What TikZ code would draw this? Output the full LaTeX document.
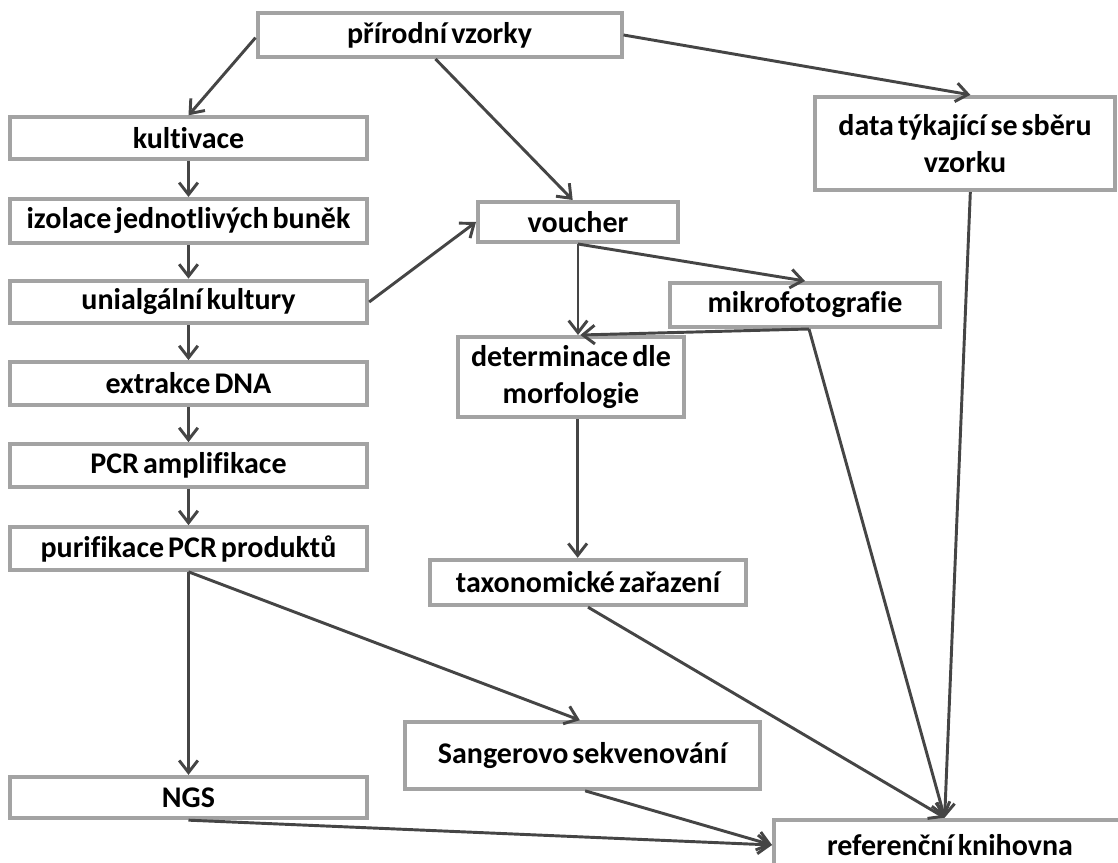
\documentclass[tikz,border=0pt]{standalone}
\usepackage{fontspec}
\setmainfont[WordSpace=0.6,Ligatures=NoCommon]{Carlito}
\usetikzlibrary{arrows.meta}
\definecolor{boxgray}{HTML}{A3A3A3}
\definecolor{arrowgray}{HTML}{454545}
\tikzset{
	box/.style={draw=boxgray, line width=3pt, fill=white, align=center, inner sep=0pt,
		font=\bfseries\fontsize{22.5}{28}\selectfont},
	flow/.style={draw=arrowgray, line width=2.2pt, -{Straight Barb[length=9pt,width=14pt,line width=2.2pt]}}
}
\begin{document}
\begin{tikzpicture}[x=0.75pt,y=-0.75pt]
			\useasboundingbox (0,0) rectangle (1118,863);
			% Boxes
			\node[box, minimum width=273pt, minimum height=33pt] (prir) at (439.5,35) {přírodní vzorky};
			\node[box, minimum width=225pt, minimum height=70pt] (data) at (965,143.5) {data týkající se sběru\\vzorku};
			\node[box, minimum width=268pt, minimum height=31pt] (kult) at (188.5,138) {kultivace};
			\node[box, minimum width=268pt, minimum height=33pt] (izol) at (188.5,221) {izolace jednotlivých buněk};
			\node[box, minimum width=150pt, minimum height=30pt] (vouch) at (578,222) {voucher};
			\node[box, minimum width=268pt, minimum height=32pt] (unial) at (188.5,302) {unialgální kultury};
			\node[box, minimum width=203pt, minimum height=33pt] (mikro) at (805,305) {mikrofotografie};
			\node[box, minimum width=170pt, minimum height=60pt] (deter) at (571,377) {determinace dle\\morfologie};
			\node[box, minimum width=268pt, minimum height=32pt] (extr) at (188.5,383.5) {extrakce DNA};
			\node[box, minimum width=268pt, minimum height=32pt] (pcr) at (188.5,465.5) {PCR amplifikace};
			\node[box, minimum width=268pt, minimum height=32pt] (purif) at (188.5,548.5) {purifikace PCR produktů};
			\node[box, minimum width=237pt, minimum height=34pt] (taxo) at (588,582.5) {taxonomické zařazení};
			\node[box, minimum width=268pt, minimum height=31pt] (ngs) at (188.5,797.5) {NGS};
			\node[box, minimum width=266pt, minimum height=50pt] (sang) at (582.5,755.5) {Sangerovo sekvenování};
			\node[box, minimum width=264pt, minimum height=38pt] (refer) at (950,845) {referenční knihovna};
			
			% Left column
			\draw[flow] ([yshift=-2pt]prir.west) -- (kult.north);
			\draw[flow] (kult) -- (izol);
			\draw[flow] (izol) -- (unial);
			\draw[flow] (unial) -- (extr);
			\draw[flow] (extr) -- (pcr);
			\draw[flow] (pcr) -- (purif);
			\draw[flow] (purif) -- (ngs);
			\draw[flow] (purif.south) -- ([xshift=-2pt]sang.north);
			
			% Middle
			\draw[flow] ([xshift=-3pt]prir.south) -- ([xshift=-4pt]vouch.north);
			\draw[flow] (unial.east) -- (vouch.west);
			\draw[flow] (vouch.south) -- (vouch.south |- deter.north);
			\draw[flow] (vouch.south) -- (mikro.north);
			\draw[flow] ([xshift=3pt]mikro.south) -- ([xshift=7pt]deter.north);
			\draw[flow] ([xshift=5pt]deter.south) -- ([xshift=5pt]deter.south |- taxo.north);
			
			% Right
			\draw[flow] (prir.east) -- ([xshift=4pt]data.north);
			\draw[flow] ([xshift=4pt]data.south) -- ([xshift=-4pt]refer.north);
			\draw[flow] ([xshift=3pt]mikro.south) -- ([xshift=-4pt]refer.north);
			\draw[flow] (taxo.south) -- ([xshift=-4pt]refer.north);
			\draw[flow] (ngs.south) -- (refer.west);
			\draw[flow] ([xshift=2pt]sang.south) -- (refer.west);
\end{tikzpicture}
\end{document}
